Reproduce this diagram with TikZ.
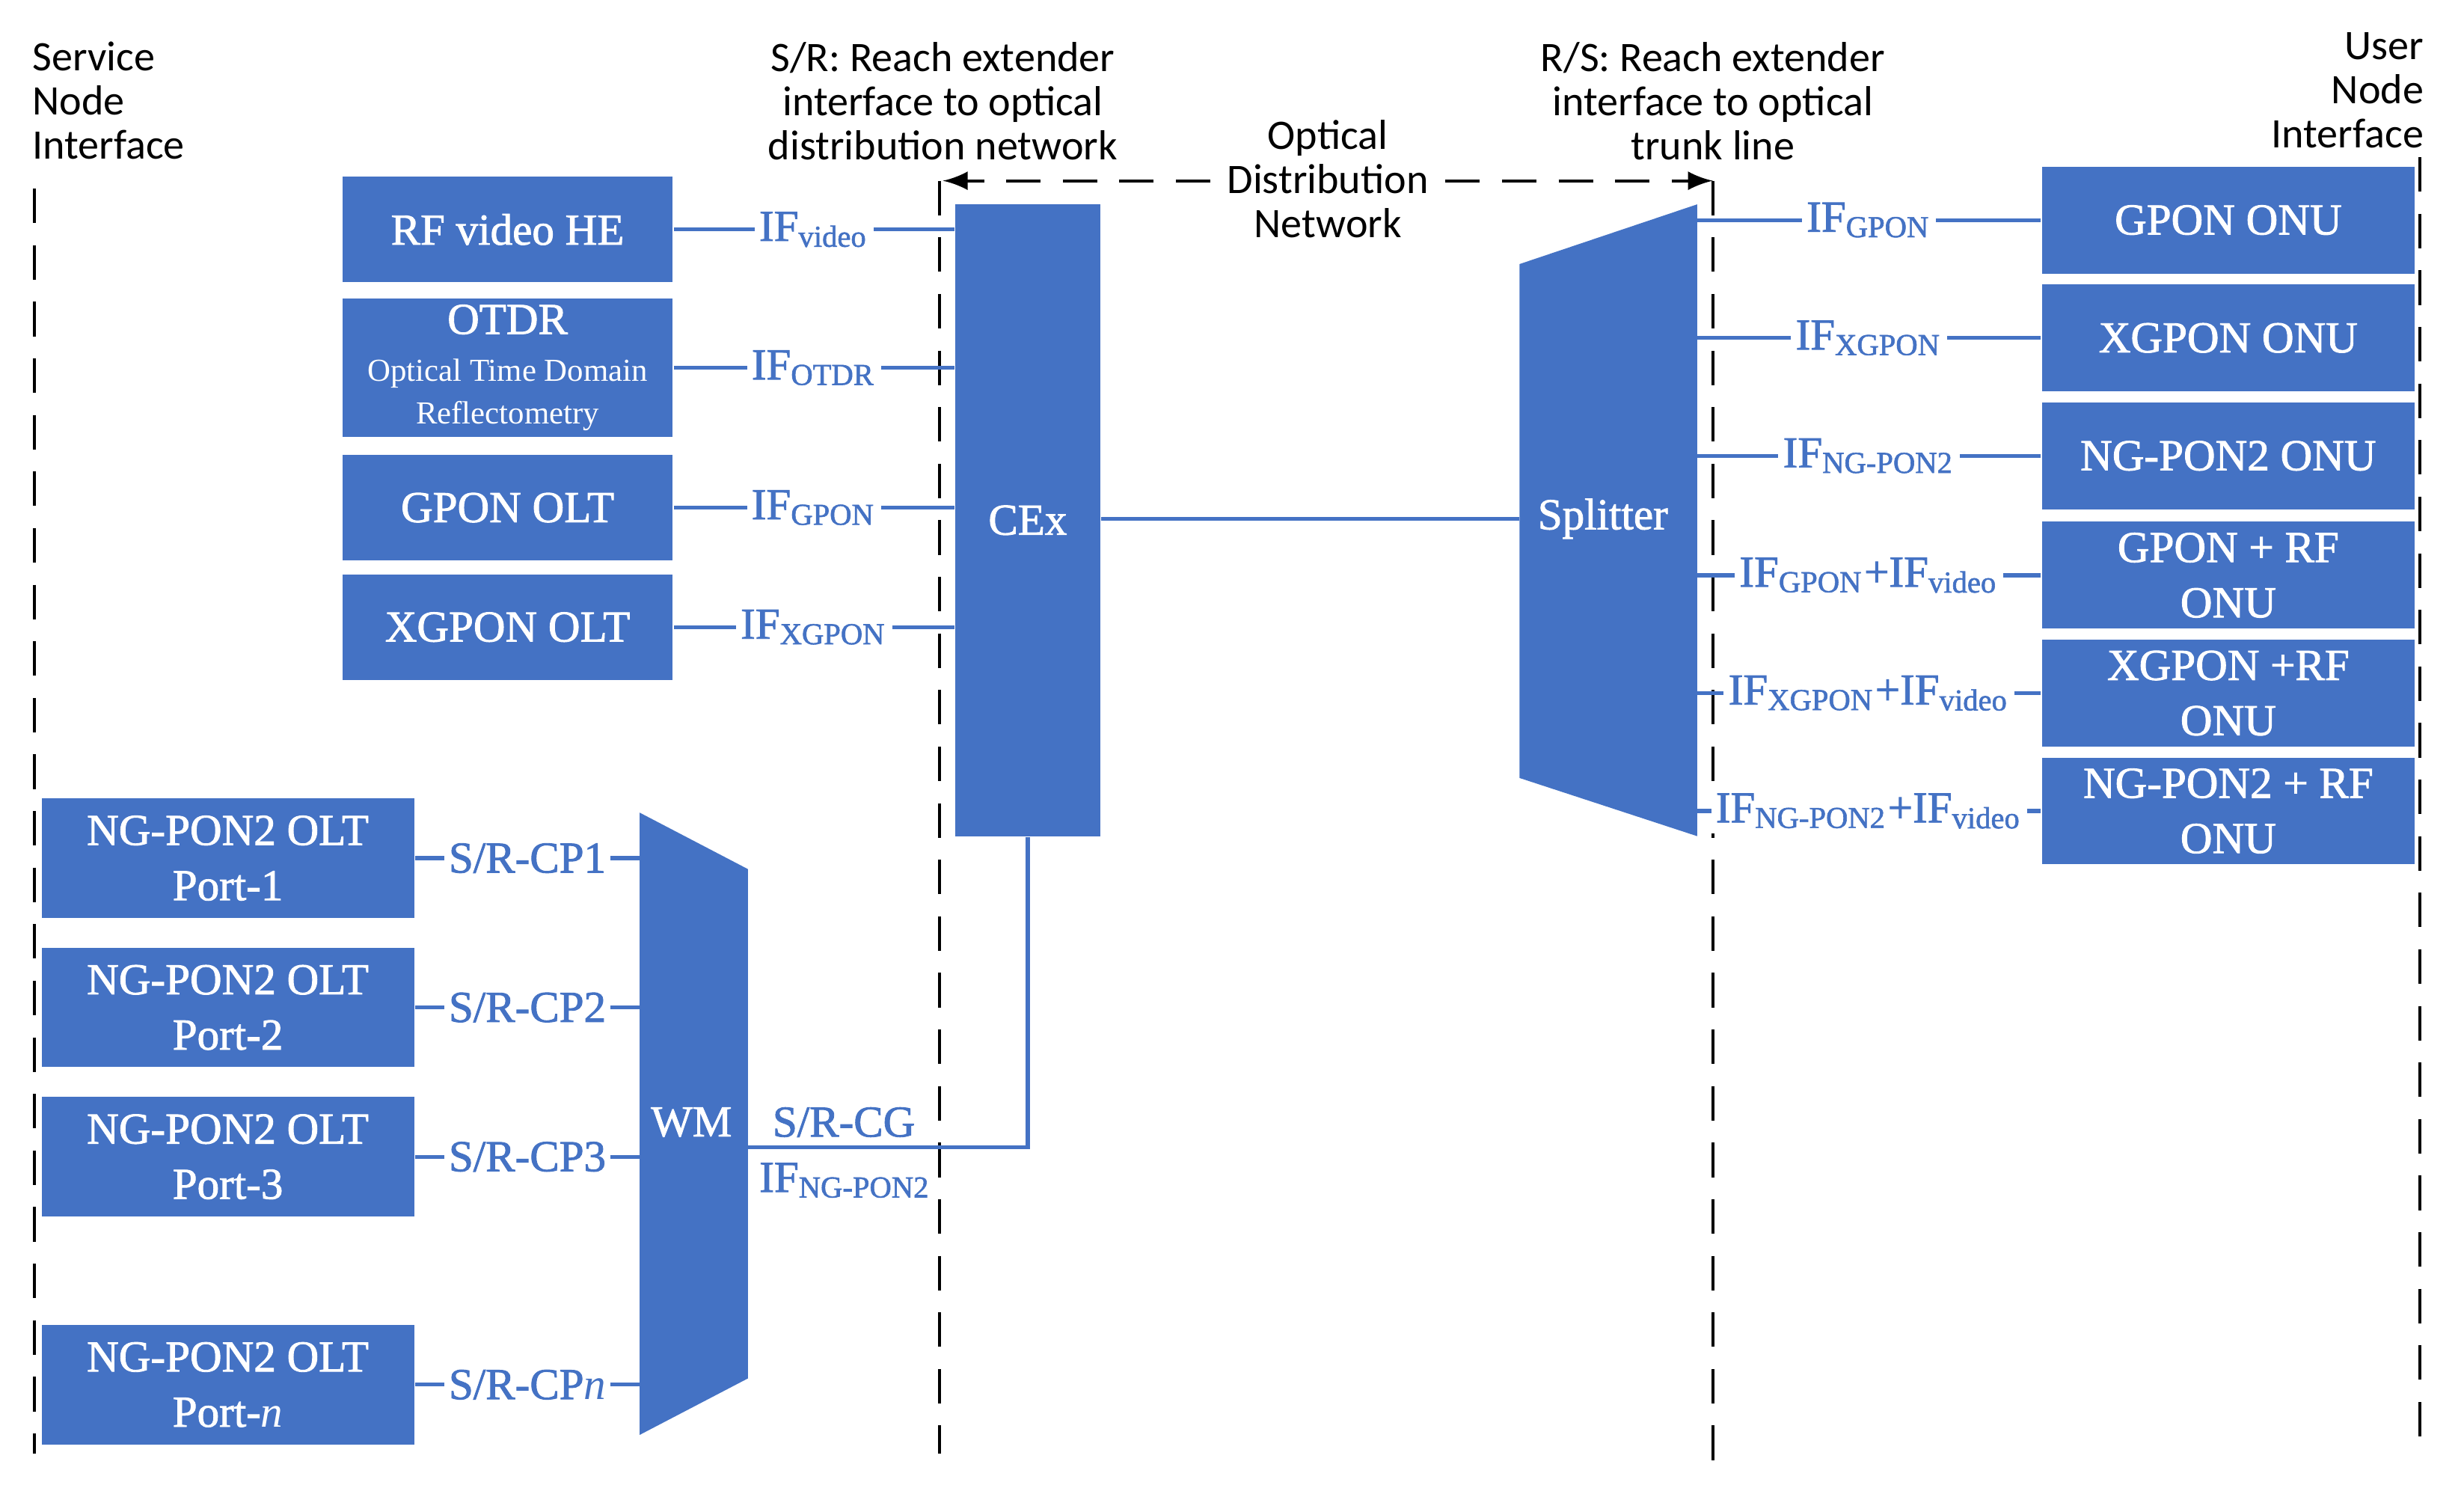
\documentclass[tikz,border=0pt]{standalone}
\usepackage{fontspec}
\setmainfont{Liberation Serif}[AutoFakeBold=1.5]
\newfontfamily\boxfont{Liberation Serif}[AutoFakeBold=1.5]
\newfontfamily\hdrfont{Carlito}
\usepackage{tikz}
\usetikzlibrary{arrows,calc}
\definecolor{ponblue}{RGB}{68,114,196}
\newcommand{\IF}[1]{IF\textsubscript{\fontsize{5.5}{6}\selectfont #1}}

\begin{document}
\begin{tikzpicture}[x=0.1mm,y=-0.1mm]
\tikzstyle{rect}=[rectangle, fill=ponblue, text=white, font=\boxfont\fontsize{8}{10}\selectfont\bfseries, align=center, inner sep=0pt]
\tikzstyle{lbox}=[rect, minimum width=21mm, minimum height=6.7mm]
\tikzstyle{obox}=[rect, minimum width=23.7mm, minimum height=7.6mm]
\tikzstyle{ubox}=[rect, minimum width=23.7mm, minimum height=6.8mm]
\tikzstyle{connect}=[ponblue, line width=0.25mm]
\tikzstyle{iflabel}=[fill=white, text=ponblue, font=\boxfont\fontsize{8}{9}\selectfont\bfseries, inner sep=0.3mm]
\tikzstyle{ref}=[black, dash pattern=on 2.2mm off 1.4mm, line width=0.2mm]
\tikzstyle{hdr}=[font=\hdrfont\fontsize{7.6}{8}\selectfont, inner sep=0pt, align=center]

\useasboundingbox (0,0) rectangle (1568,956);

  % reference points
  \draw[ref] (22,120) -- (22,925);
  \draw[ref] (598,115) -- (598,925);
  \draw[ref] (1090,115) -- (1090,930);
  \draw[ref] (1540,100) -- (1540,925);

  \node[hdr, align=left, anchor=north west] (sni) at (20,26) {Service\\Node\\Interface};
  \node[hdr, anchor=north] (sr) at (600,26) {S/R: Reach extender\\interface to optical\\distribution network};
  \node[hdr, anchor=north] (rs) at (1090,26) {R/S: Reach extender\\interface to optical\\trunk line};
  \node[hdr, align=right, anchor=north east] (uni) at (1543,20) {User\\Node\\Interface};
  \node[hdr, fill=white, inner sep=1mm] (odn) at (845,114) {Optical\\Distribution\\Network};
  \coordinate (odnL) at (600,115);
  \coordinate (odnR) at (1090,115);
  \draw[ref, -latex] (odn.west |- odnL) -- (odnL);
  \draw[ref, -latex] (odn.east |- odnR) -- (odnR);

  % service side
  \node[lbox] (rf)    at (323,146) {RF video HE};
  \node[lbox, minimum height=8.8mm] (otdr) at (323,234) {OTDR\\[-0.5mm]{\fontsize{5.8}{7}\selectfont\mdseries Optical Time Domain}\\[-0.8mm]{\fontsize{5.8}{7}\selectfont\mdseries Reflectometry}};
  \node[lbox] (golt)  at (323,323) {GPON OLT};
  \node[lbox] (xolt)  at (323,399) {XGPON OLT};

  \node[rect, minimum width=9.2mm, minimum height=40.2mm] (cex) at (654,331) {CEx};

  \path[draw, connect] (rf.east)   -- node[iflabel] {\IF{video}} (rf.east -| cex.west);
  \path[draw, connect] (otdr.east) -- node[iflabel] {\IF{OTDR}} (otdr.east -| cex.west);
  \path[draw, connect] (golt.east) -- node[iflabel] {\IF{GPON}} (golt.east -| cex.west);
  \path[draw, connect] (xolt.east) -- node[iflabel] {\IF{XGPON}} (xolt.east -| cex.west);

  % splitter
  \fill[ponblue] (967,168) -- (1080,130) -- (1080,532) -- (967,495) -- cycle;
  \node[text=white, font=\boxfont\fontsize{8}{10}\selectfont\bfseries] (split) at (1020,330) {Splitter};
  \coordinate (splitW) at (967,330);
  \draw[connect] (cex.east |- splitW) -- (splitW);

  % user side
  \node[ubox] (gonu)  at (1418,140) {GPON ONU};
  \node[ubox] (xonu)  at (1418,215) {XGPON ONU};
  \node[ubox] (nonu)  at (1418,290) {NG-PON2 ONU};
  \node[ubox] (grf)   at (1418,366) {GPON + RF\\ONU};
  \node[ubox] (xrf)   at (1418,441) {XGPON +RF\\ONU};
  \node[ubox] (nrf)   at (1418,516) {NG-PON2 + RF\\ONU};

  \coordinate (sE) at (1080,0);
  \path[draw, connect] (sE |- gonu) -- node[iflabel] {\IF{GPON}} (gonu.west);
  \path[draw, connect] (sE |- xonu) -- node[iflabel] {\IF{XGPON}} (xonu.west);
  \path[draw, connect] (sE |- nonu) -- node[iflabel] {\IF{NG-PON2}} (nonu.west);
  \path[draw, connect] (sE |- grf) -- node[iflabel] {\IF{GPON}+\IF{video}} (grf.west);
  \path[draw, connect] (sE |- xrf) -- node[iflabel] {\IF{XGPON}+\IF{video}} (xrf.west);
  \path[draw, connect] (sE |- nrf) -- node[iflabel] {\IF{NG-PON2}+\IF{video}} (nrf.west);

  % NG-PON2 ports and WM
  \node[obox] (p1) at (145,546) {NG-PON2 OLT\\Port-1};
  \node[obox] (p2) at (145,641) {NG-PON2 OLT\\Port-2};
  \node[obox] (p3) at (145,736) {NG-PON2 OLT\\Port-3};
  \node[obox] (pn) at (145,881) {NG-PON2 OLT\\Port-\textit{n}};

  \fill[ponblue] (407,517) -- (476,553) -- (476,877) -- (407,913) -- cycle;
  \node[text=white, font=\boxfont\fontsize{8}{10}\selectfont\bfseries] (wm) at (440,714) {WM};
  \coordinate (wmW) at (407,0);
  \coordinate (wmE) at (476,730);

  \path[draw, connect] (p1.east) -- node[iflabel] {S/R-CP1} (wmW |- p1);
  \path[draw, connect] (p2.east) -- node[iflabel] {S/R-CP2} (wmW |- p2);
  \path[draw, connect] (p3.east) -- node[iflabel] {S/R-CP3} (wmW |- p3);
  \path[draw, connect] (pn.east) -- node[iflabel] {S/R-CP\textit{n}} (wmW |- pn);

  \draw[connect] (wmE) -- (wmE -| cex) -- (cex.south);
  \node[iflabel, fill=none] (cg) at (537,714) {S/R-CG};
  \node[iflabel, fill=none] (cgif) at (538,751) {\IF{NG-PON2}};

\end{tikzpicture}
\end{document}
